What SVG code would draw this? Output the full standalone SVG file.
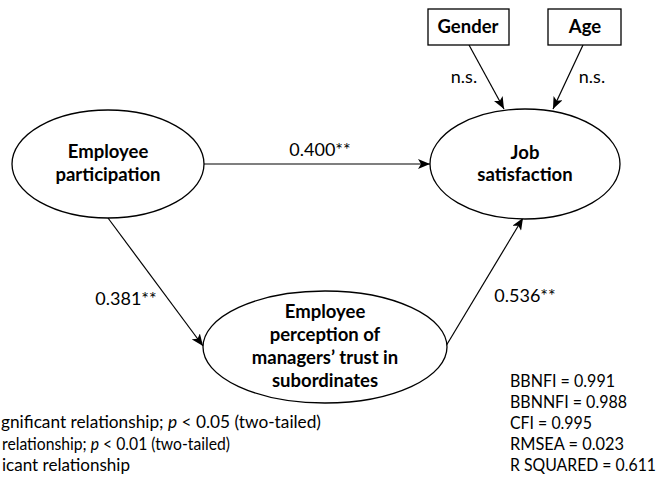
<svg xmlns="http://www.w3.org/2000/svg" width="661" height="479" viewBox="0 0 661 479">
<defs>
<style>
.shape{fill:#fff;stroke:#000;stroke-width:1.3}
.edge{fill:none;stroke:#000;stroke-width:1.2}
.b{font-family:Lato,"Liberation Sans",sans-serif;font-weight:bold;font-size:18.5px;fill:#000;text-anchor:middle}
.r{font-family:Lato,"Liberation Sans",sans-serif;font-size:18px;fill:#000}
.s{font-family:Lato,"Liberation Sans",sans-serif;font-size:16.5px;fill:#000}
</style>
<marker id="ah" viewBox="0 0 12 10" refX="12" refY="5" markerWidth="12" markerHeight="10" markerUnits="userSpaceOnUse" orient="auto">
<path d="M0,0 L12,5 L0,10 L3,5 z" fill="#000"/>
</marker>
</defs>
<rect width="661" height="479" fill="#fff"/>
<g id="connectors">
<line class="edge" x1="203" y1="164" x2="430" y2="164" marker-end="url(#ah)"/>
<line class="edge" x1="108" y1="218" x2="203" y2="346" marker-end="url(#ah)"/>
<line class="edge" x1="446" y1="346" x2="523" y2="218" marker-end="url(#ah)"/>
<line class="edge" x1="469" y1="45" x2="504" y2="109" marker-end="url(#ah)"/>
<line class="edge" x1="583" y1="45" x2="553" y2="109" marker-end="url(#ah)"/>
<text class="r" x="320" y="156" text-anchor="middle">0.400**</text>
<text class="r" x="126" y="305" text-anchor="middle">0.381**</text>
<text class="r" x="525" y="302" text-anchor="middle">0.536**</text>
<text class="r" x="464" y="83" text-anchor="middle">n.s.</text>
<text class="r" x="592" y="83" text-anchor="middle">n.s.</text>
</g>
<g id="participation">
<ellipse class="shape" cx="108" cy="164" rx="96" ry="54"/>
<text class="b" x="108" y="158">Employee</text>
<text class="b" x="108" y="181">participation</text>
</g>
<g id="satisfaction">
<ellipse class="shape" cx="525" cy="164" rx="95" ry="55"/>
<text class="b" x="525" y="159">Job</text>
<text class="b" x="525" y="181">satisfaction</text>
</g>
<g id="trust">
<ellipse class="shape" cx="325" cy="347" rx="122" ry="56"/>
<text class="b" x="325" y="318">Employee</text>
<text class="b" x="325" y="341">perception of</text>
<text class="b" x="325" y="364">managers’ trust in</text>
<text class="b" x="325" y="387">subordinates</text>
</g>
<g id="gender">
<rect class="shape" x="428" y="9" width="81" height="36"/>
<text class="b" x="468" y="33">Gender</text>
</g>
<g id="age">
<rect class="shape" x="548" y="9" width="73" height="36"/>
<text class="b" x="585" y="33">Age</text>
</g>
<g id="legend">
<text class="s" x="1" y="428" textLength="320" lengthAdjust="spacingAndGlyphs">gnificant relationship; <tspan font-style="italic">p</tspan> &lt; 0.05 (two-tailed)</text>
<text class="s" x="2" y="449.5" textLength="228" lengthAdjust="spacingAndGlyphs">relationship; <tspan font-style="italic">p</tspan> &lt; 0.01 (two-tailed)</text>
<text class="s" x="2" y="471" textLength="128" lengthAdjust="spacingAndGlyphs">icant relationship</text>
</g>
<g id="stats">
<text class="s" x="510" y="387" textLength="105" lengthAdjust="spacingAndGlyphs">BBNFI = 0.991</text>
<text class="s" x="510" y="408" textLength="117" lengthAdjust="spacingAndGlyphs">BBNNFI = 0.988</text>
<text class="s" x="510" y="429" textLength="82" lengthAdjust="spacingAndGlyphs">CFI = 0.995</text>
<text class="s" x="510" y="450" textLength="114" lengthAdjust="spacingAndGlyphs">RMSEA = 0.023</text>
<text class="s" x="510" y="471" textLength="146" lengthAdjust="spacingAndGlyphs">R SQUARED = 0.611</text>
</g>
</svg>
